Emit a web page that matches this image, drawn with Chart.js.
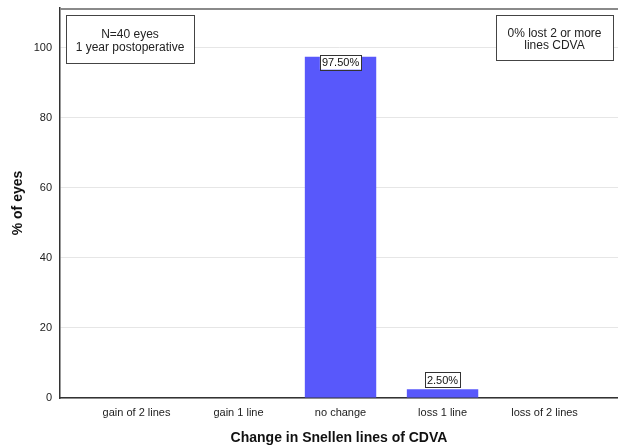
<!DOCTYPE html>
<html>
<head>
<meta charset="utf-8">
<script src="https://cdn.jsdelivr.net/npm/chart.js@4/dist/chart.umd.min.js"></script>
<style>
  html, body { margin: 0; padding: 0; background: #fff; }
  #wrap { width: 618px; height: 447px; }
</style>
</head>
<body>
<div id="wrap"><canvas id="chart"></canvas></div>
<script>
// Balkendiagramm: Änderung der Snellen-Zeilen (CDVA), Anteil der Augen in %
const kategorien = ['gain of 2 lines', 'gain 1 line', 'no change', 'loss 1 line', 'loss of 2 lines'];
const prozent = [0, 0, 97.5, 2.5, 0];
const yTicks = [0, 20, 40, 60, 80, 100];
const infoLinks = ['N=40 eyes', '1 year postoperative'];
const infoRechts = ['0% lost 2 or more', 'lines CDVA'];

const SCHRIFT = '"Liberation Sans", Arial, sans-serif';
const BALKEN = '#5858fb';

// Rahmen oben, Wertelabels und Infokästen
const extras = {
  id: 'extras',
  afterDatasetsDraw(chart) {
    const { ctx, chartArea: a } = chart;
    ctx.save();
    // oberer Rahmen
    ctx.strokeStyle = '#8a8a8a';
    ctx.lineWidth = 2;
    ctx.beginPath();
    ctx.moveTo(a.left, a.top + 1);
    ctx.lineTo(a.right, a.top + 1);
    ctx.stroke();

    // Wertelabels
    ctx.font = '11px ' + SCHRIFT;
    ctx.textAlign = 'center';
    ctx.textBaseline = 'middle';
    chart.getDatasetMeta(0).data.forEach((bar, i) => {
      const v = prozent[i];
      if (!v) return;
      const txt = v.toFixed(2) + '%';
      const w = ctx.measureText(txt).width + 4, h = 15;
      const hoch = (bar.base - bar.y) > 30;
      const top = hoch ? bar.y - 2 : bar.y - h - 2;
      const x = bar.x - w / 2;
      ctx.fillStyle = '#fff';
      ctx.fillRect(x, top, w, h);
      ctx.strokeStyle = '#333';
      ctx.lineWidth = 1;
      ctx.strokeRect(Math.round(x) + 0.5, Math.round(top) + 0.5, Math.round(w), h);
      ctx.fillStyle = '#111';
      ctx.fillText(txt, bar.x, top + h / 2 + 1);
    });

    // Infokästen
    const kasten = (x, y, w, h, zeilen, zeilenAbstand) => {
      ctx.fillStyle = '#fff';
      ctx.fillRect(x, y, w, h);
      ctx.strokeStyle = '#444';
      ctx.lineWidth = 1;
      ctx.strokeRect(x + 0.5, y + 0.5, w, h);
      ctx.fillStyle = '#222';
      ctx.font = '12px ' + SCHRIFT;
      zeilen.forEach((z, i) => ctx.fillText(z, x + w / 2, y + h / 2 + 2 + (i - (zeilen.length - 1) / 2) * zeilenAbstand));
    };
    kasten(a.left + 6, a.top + 7, 128, 48, infoLinks, 13);
    kasten(a.right - 122, a.top + 7, 117, 45, infoRechts, 12);
    ctx.restore();
  },
};

new Chart(document.getElementById('chart'), {
  type: 'bar',
  data: {
    datasets: [{
      data: prozent.map((v, i) => ({ x: i, y: v })),
      backgroundColor: BALKEN,
      borderWidth: 0,
      categoryPercentage: 1,
      barPercentage: 0.7,
    }],
  },
  options: {
    responsive: true,
    maintainAspectRatio: false,
    animation: false,
    layout: { padding: { top: 8, right: 0, left: 0, bottom: 0 } },
    plugins: { legend: { display: false }, tooltip: { enabled: false } },
    scales: {
      x: {
        type: 'linear',
        min: -0.75,
        max: 4.72,
        offset: false,
        grid: { display: false, drawTicks: false },
        border: { color: '#333', width: 1.5 },
        afterBuildTicks: (s) => { s.ticks = kategorien.map((_, i) => ({ value: i })); },
        ticks: {
          autoSkip: false,
          maxRotation: 0,
          padding: 8,
          color: '#222',
          font: { family: SCHRIFT, size: 11 },
          callback: (v) => kategorien[v] ?? '',
        },
        title: {
          display: true,
          text: 'Change in Snellen lines of CDVA',
          color: '#111',
          font: { family: SCHRIFT, size: 14, weight: 'bold' },
          padding: { top: 12, bottom: 0 },
        },
        afterFit: (s) => { s.height = 49; s.paddingLeft = 0; s.paddingRight = 0; },
      },
      y: {
        min: 0,
        max: 111.4,
        grid: { color: '#e6e6e6', drawTicks: false },
        border: { color: '#333', width: 1.5 },
        afterBuildTicks: (s) => { s.ticks = yTicks.map((v) => ({ value: v })); },
        ticks: {
          padding: 8,
          color: '#222',
          font: { family: SCHRIFT, size: 11 },
        },
        title: {
          display: true,
          text: '% of eyes',
          color: '#111',
          font: { family: SCHRIFT, size: 14, weight: 'bold' },
          padding: { top: 10, bottom: 0 },
        },
        afterFit: (s) => { s.width = 60; s.paddingTop = 0; s.paddingBottom = 0; },
      },
    },
  },
  plugins: [extras],
});
</script>
</body>
</html>
